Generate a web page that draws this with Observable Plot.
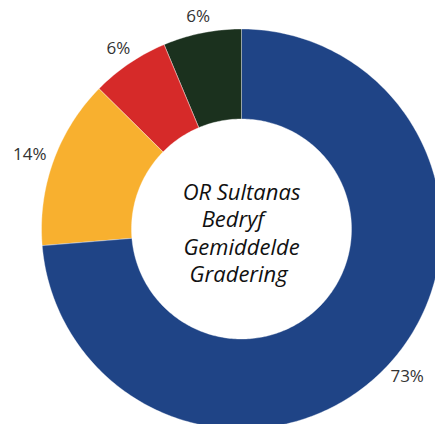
<!DOCTYPE html>
<html>
<head>
<meta charset="utf-8">
<script src="https://cdn.jsdelivr.net/npm/d3@7"></script>
<script src="https://cdn.jsdelivr.net/npm/@observablehq/plot@0.6"></script>
<style>
  html, body { margin: 0; padding: 0; background: #fff; }
  #chart svg { display: block; }
</style>
</head>
<body>
<div id="chart"></div>
<script>
// Slices, clockwise from 12 o'clock
const categories = ["Graad A", "Graad B", "Graad C", "Graad D"];
const values = [73.7, 13.7, 6.3, 6.3];
const labels = ["73%", "14%", "6%", "6%"];
const colors = ["#1f4486", "#f8b02f", "#d62a29", "#1b311e"];
const centerLines = ["OR Sultanas", "Bedryf\u00a0\u00a0\u00a0", "Gemiddelde", "Gradering\u00a0"];

const W = 435, H = 424;
const cx = 241, cy = 228.5;      // ring centre in pixels
const R = 200, r0 = 110, gap = 10, fs = 17;

const pie = d3.pie().sort(null).value(d => d)(values);

// polygon points for each ring slice
const rows = [];
pie.forEach((p, i) => {
  const n = Math.max(4, Math.ceil((p.endAngle - p.startAngle) * 60));
  for (let k = 0; k <= n; k++) {
    const a = p.startAngle + (p.endAngle - p.startAngle) * k / n;
    rows.push({cat: categories[i], x: R * Math.sin(a), y: -R * Math.cos(a)});
  }
  for (let k = n; k >= 0; k--) {
    const a = p.startAngle + (p.endAngle - p.startAngle) * k / n;
    rows.push({cat: categories[i], x: r0 * Math.sin(a), y: -r0 * Math.cos(a)});
  }
});

// "outside end" labels: box pushed outward so its near edge sits just beyond the ring
const labelRows = pie.map((p, i) => {
  const a = (p.startAngle + p.endAngle) / 2;
  const ux = Math.sin(a), uy = -Math.cos(a);
  const hw = labels[i].length * fs * 0.3, hh = fs * 0.42;
  return {text: labels[i], x: (R + gap) * ux + hw * ux, y: (R + gap) * uy + hh * uy};
});

const chart = Plot.plot({
  width: W,
  height: H,
  margin: 0,
  style: {background: "#fff", overflow: "hidden"},
  x: {domain: [-cx, W - cx], range: [0, W], axis: null},
  y: {domain: [-cy, H - cy], range: [0, H], axis: null},
  color: {domain: categories, range: colors},
  marks: [
    Plot.line(rows, {x: "x", y: "y", z: "cat", fill: "cat", stroke: "#ffffff", strokeWidth: 0.6, strokeOpacity: 0.6, curve: "linear-closed"}),
    Plot.text(labelRows, {x: "x", y: "y", text: "text", fontSize: fs, fill: "#333", fontFamily: "Open Sans, sans-serif", textAnchor: "middle", lineAnchor: "middle"}),
    Plot.text([centerLines.join("\n")], {x: () => 0, y: () => 0, text: d => d, fontSize: 22, fontStyle: "italic", fill: "#111", fontFamily: "Open Sans, sans-serif", textAnchor: "middle", lineAnchor: "middle", lineHeight: 1.25, dy: 3})
  ]
});
document.getElementById("chart").appendChild(chart);
</script>
</body>
</html>
